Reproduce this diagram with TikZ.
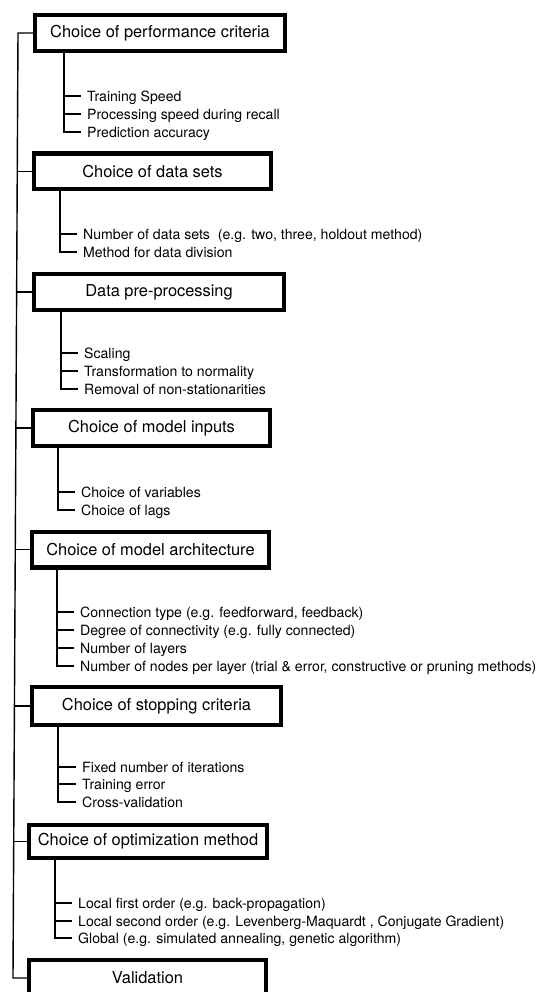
\documentclass[tikz,border=0pt]{standalone}
\usepackage{fontspec}
\setmainfont{TeX Gyre Heros}
\begin{document}
\begin{tikzpicture}[x=1pt,y=-1pt,
  stage/.style={draw, line width=4.2pt, minimum height=35.8pt, inner sep=0pt,
    font=\fontsize{16.4}{20}\selectfont},
  item/.style={anchor=west, inner sep=0pt, text height=10.2pt, text depth=0pt,
    font=\fontsize{14.1}{17}\selectfont},
  link/.style={line width=1.4pt}]
\useasboundingbox (0,0) rectangle (547,992);
\clip (0,0) rectangle (547,992);

% stage boxes
\node[stage, minimum width=249.8pt] (b1) at (160,33)    {Choice of performance criteria};
\node[stage, minimum width=236.8pt] (b2) at (152.5,171.5) {Choice of data sets};
\node[stage, minimum width=249.8pt] (b3) at (159,292)   {Data pre-processing};
\node[stage, minimum width=236.8pt] (b4) at (151.5,428) {Choice of model inputs};
\node[stage, minimum width=236.8pt] (b5) at (150.5,549.5) {Choice of model architecture};
\node[stage, minimum width=248.8pt, minimum height=37.8pt] (b6) at (156.5,706) {Choice of stopping criteria};
\node[stage, minimum width=237.8pt, minimum height=32.8pt] (b7) at (148,841.5) {Choice of optimization method};
\node[stage, minimum width=236.8pt] (b8) at (147.5,978) {Validation};

% main trunk
\coordinate (t1) at (18,33);
\coordinate (t2) at (17.3,171.5);
\coordinate (t3) at (16.6,292);
\coordinate (t4) at (15.9,428);
\coordinate (t5) at (15.3,549.5);
\coordinate (t6) at (14.4,706);
\coordinate (t7) at (13.7,841.5);
\coordinate (t8) at (13,978);
\draw[link] (b1.west) -- (t1) -- (t8) -- (b8.west);
\foreach \k in {2,...,7} \draw[link] (b\k.west) -- (t\k);

% items
\node[item] (i11) at (87,96)  {Training Speed};
\node[item] (i12) at (87,114) {Processing speed during recall};
\node[item] (i13) at (87,132) {Prediction accuracy};

\node[item] (i21) at (83,234) {Number of data sets\ \ (e.g. two, three, holdout method)};
\node[item] (i22) at (83,252) {Method for data division};

\node[item] (i31) at (84,353) {Scaling};
\node[item] (i32) at (84,371) {Transformation to normality};
\node[item] (i33) at (84,389) {Removal of non-stationarities};

\node[item] (i41) at (81,492) {Choice of variables};
\node[item] (i42) at (81,510) {Choice of lags};

\node[item] (i51) at (80,612) {Connection type (e.g. feedforward, feedback)};
\node[item] (i52) at (80,630) {Degree of connectivity (e.g. fully connected)};
\node[item] (i53) at (80,648) {Number of layers};
\node[item] (i54) at (80,666) {Number of nodes per layer (trial \& error, constructive or pruning methods)};

\node[item] (i61) at (82,767) {Fixed number of iterations};
\node[item] (i62) at (82,784) {Training error};
\node[item] (i63) at (82,802) {Cross-validation};

\node[item] (i71) at (78,903) {Local first order (e.g. back-propagation)};
\node[item] (i72) at (78,921) {Local second order (e.g. Levenberg-Maquardt , Conjugate Gradient)};
\node[item] (i73) at (78,938) {Global (e.g. simulated annealing, genetic algorithm)};

% sub-branches hanging from each box
\coordinate (s1) at ([xshift=30.9pt]b1.south west);
\coordinate (s2) at ([xshift=27.9pt]b2.south west);
\coordinate (s3) at ([xshift=28.9pt]b3.south west);
\coordinate (s4) at ([xshift=26.9pt]b4.south west);
\coordinate (s5) at ([xshift=26.9pt]b5.south west);
\coordinate (s6) at ([xshift=27.9pt]b6.south west);
\coordinate (s7) at ([xshift=27.9pt]b7.south west);

\draw[link] (s1) |- ([xshift=-6pt]i13.west);
\foreach \j in {1,2} \draw[link] (s1 |- i1\j.west) -- ([xshift=-6pt]i1\j.west);
\draw[link] (s2) |- ([xshift=-6pt]i22.west);
\draw[link] (s2 |- i21.west) -- ([xshift=-6pt]i21.west);
\draw[link] (s3) |- ([xshift=-6pt]i33.west);
\foreach \j in {1,2} \draw[link] (s3 |- i3\j.west) -- ([xshift=-6pt]i3\j.west);
\draw[link] (s4) |- ([xshift=-6pt]i42.west);
\draw[link] (s4 |- i41.west) -- ([xshift=-6pt]i41.west);
\draw[link] (s5) |- ([xshift=-6pt]i54.west);
\foreach \j in {1,2,3} \draw[link] (s5 |- i5\j.west) -- ([xshift=-6pt]i5\j.west);
\draw[link] (s6) |- ([xshift=-6pt]i63.west);
\foreach \j in {1,2} \draw[link] (s6 |- i6\j.west) -- ([xshift=-6pt]i6\j.west);
\draw[link] (s7) |- ([xshift=-6pt]i73.west);
\foreach \j in {1,2} \draw[link] (s7 |- i7\j.west) -- ([xshift=-6pt]i7\j.west);
\end{tikzpicture}
\end{document}
